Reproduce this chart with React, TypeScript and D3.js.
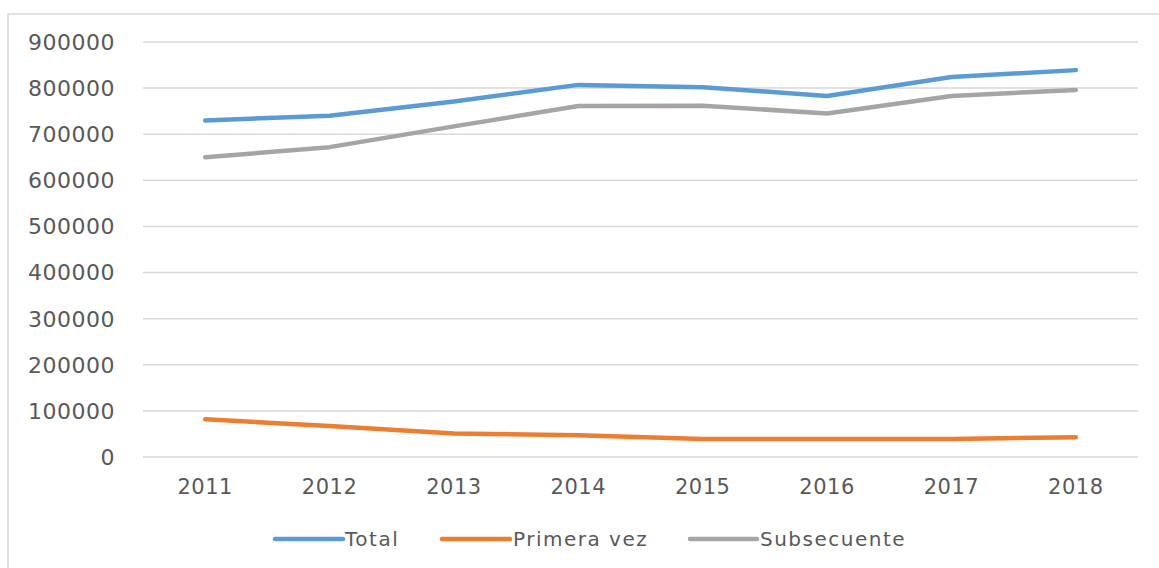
import React from "react"
import * as d3 from "d3"

const years = ["2011", "2012", "2013", "2014", "2015", "2016", "2017", "2018"]
const total = [730000, 740000, 771000, 807000, 802000, 783000, 824000, 839000]
const primeraVez = [82000, 67000, 51000, 47000, 39000, 39000, 39000, 43000]
const subsecuente = [650000, 672000, 717000, 761000, 762000, 745000, 783000, 796000]
const yTicks = [0, 100000, 200000, 300000, 400000, 500000, 600000, 700000, 800000, 900000]

const seriesNames = ["Total", "Primera vez", "Subsecuente"]
const seriesColors = ["#5B9BD5", "#ED7D31", "#A5A5A5"]

const W = 1159
const H = 568
const plot = { left: 143, right: 1138, top: 42, bottom: 457 }
const font = "'DejaVu Sans', sans-serif"

const App: React.FC = () => {
  const x = d3.scaleBand<string>().domain(years).range([plot.left, plot.right])
  const y = d3.scaleLinear().domain([0, 900000]).range([plot.bottom, plot.top])

  const line = d3.line<number>()
    .x((_, i) => (x(years[i]) as number) + x.bandwidth() / 2)
    .y(d => y(d))

  const allSeries = [total, primeraVez, subsecuente]

  // legend layout (line sample + label)
  const legendItems = [
    { x0: 275, x1: 343, tx: 345 },
    { x0: 442, x1: 510, tx: 513 },
    { x0: 690, x1: 757, tx: 760 },
  ]
  const legendY = 539

  return (
    <svg width={W} height={H} style={{ position: "absolute", left: 0, top: 0, background: "#fff" }}>
      {/* chart border */}
      <rect x={8} y={14} width={W + 10} height={H + 10} fill="none" stroke="#d9d9d9" strokeWidth={1.5} />

      {/* gridlines */}
      <g>
        {yTicks.map(t => (
          <line key={t} x1={plot.left} x2={plot.right} y1={y(t)} y2={y(t)} stroke="#d9d9d9" strokeWidth={1.5} />
        ))}
      </g>

      {/* y labels */}
      <g fontFamily={font} fontSize={22} fill="#595959" textAnchor="end" letterSpacing={0.5}>
        {yTicks.map(t => (
          <text key={t} x={115} y={y(t)} dy="0.36em">{t}</text>
        ))}
      </g>

      {/* x labels */}
      <g fontFamily={font} fontSize={21} fill="#595959" textAnchor="middle" letterSpacing={0.5}>
        {years.map(yr => (
          <text key={yr} x={(x(yr) as number) + x.bandwidth() / 2} y={494}>{yr}</text>
        ))}
      </g>

      {/* series lines */}
      <g fill="none" strokeWidth={4.5} strokeLinejoin="round" strokeLinecap="round">
        {allSeries.map((s, i) => (
          <path key={seriesNames[i]} d={line(s) || ""} stroke={seriesColors[i]} />
        ))}
      </g>

      {/* legend */}
      <g fontFamily={font} fontSize={20} fill="#595959" letterSpacing={1.5}>
        {legendItems.map((it, i) => (
          <g key={seriesNames[i]}>
            <line x1={it.x0} x2={it.x1} y1={legendY} y2={legendY} stroke={seriesColors[i]} strokeWidth={4.5} strokeLinecap="round" />
            <text x={it.tx} y={legendY} dy="0.36em">{seriesNames[i]}</text>
          </g>
        ))}
      </g>
    </svg>
  )
}

export default App
